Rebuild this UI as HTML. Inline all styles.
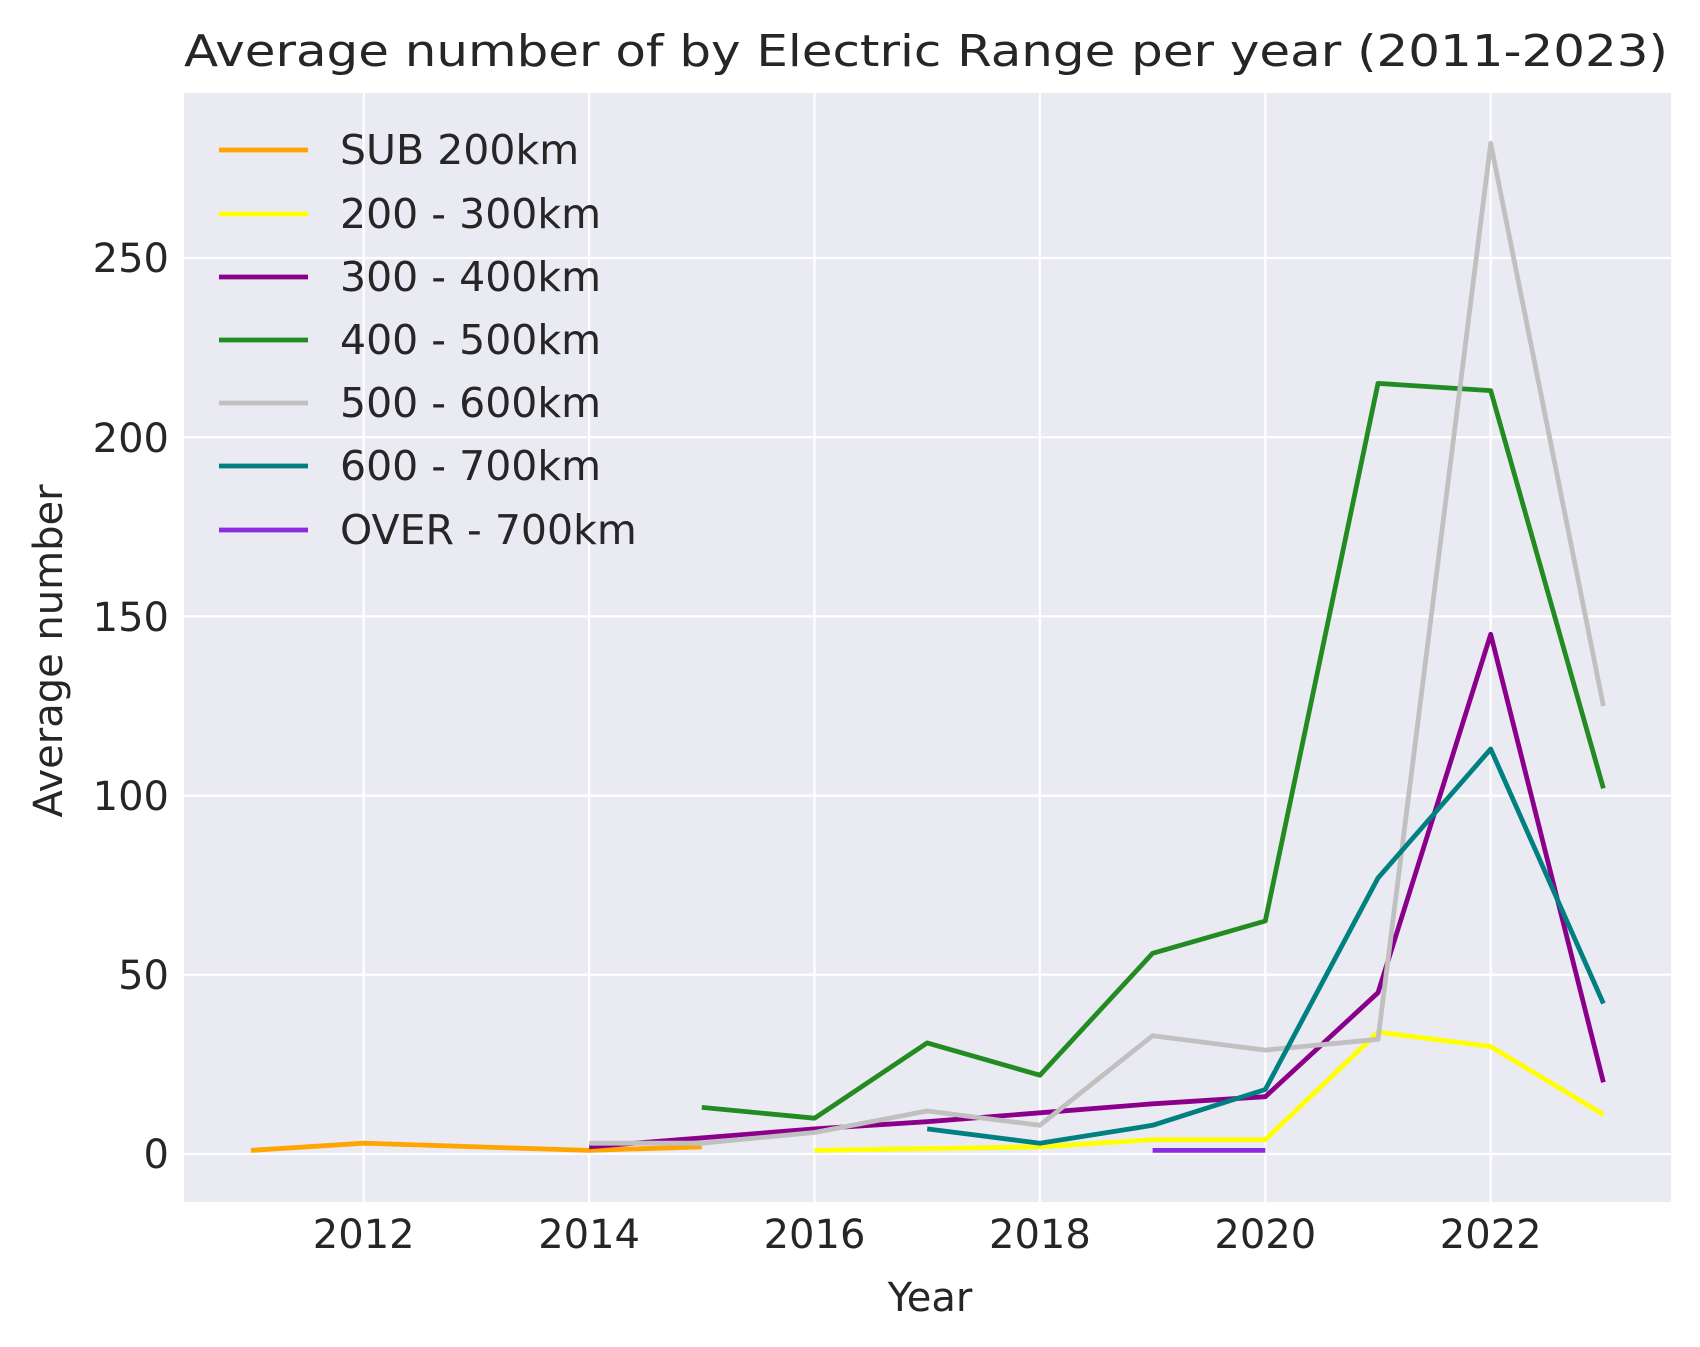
<!DOCTYPE html>
<html><head><meta charset="utf-8"><style>body{margin:0;background:#fff}svg{display:block}</style></head><body>
<svg width="1700" height="1347" xmlns="http://www.w3.org/2000/svg" font-family="DejaVu Sans, Liberation Sans, sans-serif" fill="#262626">
<rect width="1700" height="1347" fill="#fff"/>
<rect x="184" y="93" width="1487" height="1109" fill="#eaeaf2"/>
<g stroke="#fff" stroke-width="2.2">
<line x1="363.7" y1="93" x2="363.7" y2="1202"/><line x1="589.1" y1="93" x2="589.1" y2="1202"/><line x1="814.5" y1="93" x2="814.5" y2="1202"/><line x1="1039.9" y1="93" x2="1039.9" y2="1202"/><line x1="1265.3" y1="93" x2="1265.3" y2="1202"/><line x1="1490.7" y1="93" x2="1490.7" y2="1202"/>
<line x1="184" y1="1154" x2="1671" y2="1154"/><line x1="184" y1="974.8" x2="1671" y2="974.8"/><line x1="184" y1="795.6" x2="1671" y2="795.6"/><line x1="184" y1="616.4" x2="1671" y2="616.4"/><line x1="184" y1="437.2" x2="1671" y2="437.2"/><line x1="184" y1="258" x2="1671" y2="258"/>
</g>
<g fill="none" stroke-width="4.8" stroke-linejoin="round" stroke-linecap="butt">
<polyline stroke="#ffa500" points="251,1150.4 363.7,1143.2 589.1,1150.4 701.8,1146.8"/>
<polyline stroke="#ffff00" points="814.5,1150.4 927.2,1148.6 1039.9,1146.8 1152.6,1139.7 1265.3,1139.7 1378,1032.1 1490.7,1046.5 1603.4,1114.6"/>
<polyline stroke="#8b008b" points="589.1,1146.8 701.8,1137.9 814.5,1128.9 927.2,1121.7 1039.9,1112.8 1152.6,1103.8 1265.3,1096.7 1378,992.7 1490.7,634.3 1603.4,1082.3"/>
<polyline stroke="#228b22" points="701.8,1107.4 814.5,1118.2 927.2,1042.9 1039.9,1075.2 1152.6,953.3 1265.3,921 1378,383.4 1490.7,390.6 1603.4,788.4"/>
<polyline stroke="#c0c0c0" points="589.1,1143.2 701.8,1143.2 814.5,1132.5 927.2,1111 1039.9,1125.3 1152.6,1035.7 1265.3,1050.1 1378,1039.3 1490.7,143.3 1603.4,706"/>
<polyline stroke="#008080" points="927.2,1128.9 1039.9,1143.2 1152.6,1125.3 1265.3,1089.5 1378,878 1490.7,749 1603.4,1003.5"/>
<polyline stroke="#8a2be2" points="1152.6,1150.4 1265.3,1150.4"/>
</g>
<g font-size="40" text-anchor="end">
<text x="169" y="1168">0</text><text x="169" y="989">50</text><text x="169" y="810">100</text><text x="169" y="631">150</text><text x="169" y="452">200</text><text x="169" y="272">250</text>
</g>
<g font-size="40" text-anchor="middle">
<text x="363.7" y="1248">2012</text><text x="589.1" y="1248">2014</text><text x="814.5" y="1248">2016</text><text x="1039.9" y="1248">2018</text><text x="1265.3" y="1248">2020</text><text x="1490.7" y="1248">2022</text>
<text x="930" y="1311">Year</text>
<text transform="translate(62,651) rotate(-90)">Average number</text>
</g>
<text x="184" y="66" font-size="44" textLength="1484" lengthAdjust="spacingAndGlyphs">Average number of by Electric Range per year (2011-2023)</text>
<g stroke-width="4.8">
<line x1="219" y1="150" x2="308" y2="150" stroke="#ffa500"/>
<line x1="219" y1="214" x2="308" y2="214" stroke="#ffff00"/>
<line x1="219" y1="277" x2="308" y2="277" stroke="#8b008b"/>
<line x1="219" y1="340" x2="308" y2="340" stroke="#228b22"/>
<line x1="219" y1="403" x2="308" y2="403" stroke="#c0c0c0"/>
<line x1="219" y1="466" x2="308" y2="466" stroke="#008080"/>
<line x1="219" y1="530" x2="308" y2="530" stroke="#8a2be2"/>
</g>
<g font-size="41">
<text x="340" y="164">SUB 200km</text>
<text x="340" y="228">200 - 300km</text>
<text x="340" y="291">300 - 400km</text>
<text x="340" y="354">400 - 500km</text>
<text x="340" y="417">500 - 600km</text>
<text x="340" y="480">600 - 700km</text>
<text x="340" y="544">OVER - 700km</text>
</g>
</svg>
</body></html>
